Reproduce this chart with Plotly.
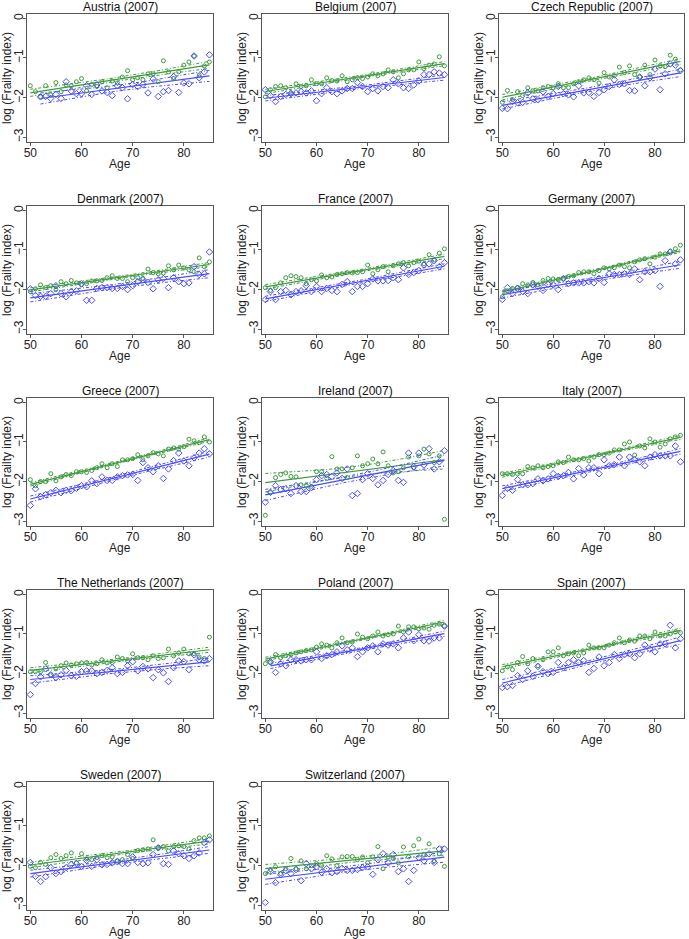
import numpy as np
import plotly.graph_objects as go

ages = list(range(50, 86))

countries = ["Austria", "Belgium", "Czech Republic", "Denmark", "France", "Germany",
             "Greece", "Ireland", "Italy", "The Netherlands", "Poland", "Spain",
             "Sweden", "Switzerland"]
year_label = "(2007)"

N = None
green_austria = [-1.70,-1.85,-1.98,-1.70,-1.93,-1.62,-1.85,-1.68,-1.70,-1.60,-1.52,-1.83,-1.67,-1.72,-1.60,-1.75,-1.58,-1.63,-1.48,-1.32,-1.55,-1.50,-1.55,-1.40,-1.40,-1.60,-1.07,-1.35,-1.52,-1.35,-1.18,-1.10,-0.95,-1.43,-1.20,-1.10]
blue_austria = [N,N,-1.98,-1.97,-2.02,-1.92,-2.02,-1.60,-1.83,-1.90,-1.90,-1.70,-1.92,-1.68,-1.83,-1.87,-1.95,-1.70,-1.75,-2.03,-1.67,-1.72,-1.67,-1.88,-1.53,-1.97,-1.85,-1.82,-1.47,-1.87,-1.63,-1.65,-0.95,-1.50,-1.35,-0.92]
green_belgium = [-1.98,-1.80,-1.72,-1.70,-1.75,-1.88,-1.65,-1.72,-1.70,-1.55,-1.65,-1.65,-1.50,-1.57,-1.58,-1.45,-1.60,-1.55,-1.50,-1.52,-1.48,-1.40,-1.45,-1.40,-1.30,-1.35,-1.50,-1.40,-1.30,-1.30,-1.10,-1.27,-1.18,-1.15,-0.97,-1.20]
blue_belgium = [-1.80,-1.95,-2.10,-1.97,-1.92,-1.90,-1.88,-1.85,-1.88,-1.83,-2.08,-1.90,-1.75,-1.85,-1.90,-1.83,-1.77,-1.77,-1.62,-1.72,-1.85,-1.77,-1.83,-1.72,-1.75,-1.55,-1.65,-1.75,-1.77,-1.68,-1.58,-1.42,-1.42,-1.35,-1.38,-1.42]
green_czech = [-2.12,-1.82,-2.05,-1.85,-1.95,-1.75,-1.83,-1.83,-1.75,-1.72,-1.75,-1.65,-1.75,-1.75,-1.65,-1.60,-1.55,-1.50,-1.55,-1.63,-1.37,-1.48,-1.45,-1.23,-1.37,-1.20,-1.42,-1.48,-1.18,-1.42,-1.05,-1.20,-1.22,-0.93,-1.03,-1.30]
blue_czech = [-2.27,-2.28,-2.10,-2.13,-2.12,-1.88,-2.03,-2.05,-1.85,-1.97,-1.90,-1.72,-1.90,-1.93,-1.98,-1.70,-1.88,-1.87,-1.97,-1.87,-1.80,-1.72,-1.55,-1.67,-1.65,-1.82,-1.83,-1.48,-1.70,-1.50,-1.28,-1.80,-1.40,-1.15,-1.18,-1.32]
green_denmark = [-2.05,-1.98,-1.88,-1.95,-1.90,-2.00,-1.80,-1.85,-1.77,-1.83,-1.88,-1.85,-1.78,-1.78,-1.77,-1.70,-1.65,-1.72,-1.72,-1.80,-1.70,-1.70,-1.72,-1.48,-1.57,-1.60,-1.58,-1.40,-1.50,-1.38,-1.45,-1.50,-1.55,-1.20,-1.42,-1.30]
blue_denmark = [-1.98,-2.15,-2.17,-2.17,-2.10,-1.90,-2.10,-2.18,-2.05,-2.03,-1.85,-2.27,-2.27,-1.97,-1.95,-1.95,-1.97,-1.97,-1.92,-2.00,-1.90,-1.80,-1.75,-1.82,-1.98,-1.75,-1.72,-1.95,-1.70,-1.80,-1.85,-1.83,-1.42,-1.62,-1.60,-1.05]
green_france = [-1.95,-2.02,-1.95,-1.83,-1.70,-1.65,-1.67,-1.70,-1.85,-1.75,-1.78,-1.63,-1.70,-1.68,-1.62,-1.60,-1.57,-1.58,-1.57,-1.55,-1.38,-1.60,-1.50,-1.42,-1.55,-1.40,-1.35,-1.32,-1.40,-1.32,-1.28,-1.35,-1.12,-1.25,-1.08,-0.97]
blue_france = [-2.25,-2.05,-2.25,-2.05,-2.02,-2.13,-2.05,-2.03,-1.90,-2.05,-1.92,-2.05,-1.97,-2.02,-2.05,-1.87,-1.80,-2.05,-1.92,-1.92,-1.85,-1.73,-1.78,-1.78,-1.77,-1.70,-1.75,-1.45,-1.62,-1.57,-1.52,-1.38,-1.35,-1.27,-1.42,-1.32]
green_germany = [-2.18,-2.03,-1.97,-1.95,-1.85,-1.88,-1.82,-1.88,-1.77,-1.72,-1.73,-1.75,-1.72,-1.67,-1.65,-1.57,-1.55,-1.55,-1.60,-1.52,-1.45,-1.48,-1.45,-1.38,-1.42,-1.45,-1.30,-1.25,-1.22,-1.35,-1.18,-1.10,-1.10,-1.03,-0.97,-0.88]
blue_germany = [-2.25,-1.95,-2.10,-1.97,-2.05,-2.10,-1.88,-1.92,-2.02,-1.87,-1.88,-2.00,-1.72,-1.85,-1.83,-1.83,-1.83,-1.80,-1.83,-1.72,-1.82,-1.60,-1.62,-1.62,-1.60,-1.62,-1.48,-1.75,-1.55,-1.55,-1.52,-1.92,-1.27,-1.05,-1.35,-1.25]
green_greece = [-1.95,-2.10,-2.00,-2.00,-1.80,-1.98,-1.88,-1.82,-1.85,-1.75,-1.75,-1.77,-1.72,-1.65,-1.55,-1.65,-1.55,-1.62,-1.45,-1.45,-1.42,-1.32,-1.45,-1.35,-1.27,-1.30,-1.35,-1.18,-1.15,-1.18,-1.12,-0.93,-0.97,-1.02,-0.87,-1.00]
blue_greece = [-2.60,-2.18,-2.38,-2.33,-2.28,-2.22,-2.28,-2.22,-2.23,-2.17,-2.10,-2.13,-1.98,-2.05,-1.88,-1.97,-1.97,-1.88,-1.85,-1.83,-1.82,-1.97,-1.52,-1.65,-1.75,-1.60,-1.92,-1.68,-1.47,-1.28,-1.48,-1.60,-1.40,-1.28,-1.17,-1.30]
green_ireland = [-2.85,-2.27,-1.90,-1.82,-1.78,-1.87,-1.88,-2.08,-2.10,-2.12,-1.75,-1.75,-1.92,-1.37,-1.68,-1.68,-1.90,-1.65,-1.35,-1.60,-1.55,-1.43,-1.55,-1.25,-1.60,-1.78,-1.75,-1.65,-1.38,-1.65,-1.35,-1.18,-1.30,-1.52,-1.35,-2.95]
blue_ireland = [-2.52,-2.27,-2.10,-2.20,-2.18,-2.30,-2.10,-2.25,-2.25,-2.15,-1.95,-1.85,-1.82,-1.87,-1.78,-1.92,-1.68,-2.35,-2.30,-1.95,-1.80,-1.92,-2.08,-1.97,-1.82,-1.72,-1.97,-2.02,-1.28,-1.62,-1.28,-1.58,-1.17,-1.68,-1.50,-1.22]
green_italy = [-1.80,-1.80,-1.82,-1.80,-1.80,-1.62,-1.65,-1.60,-1.65,-1.62,-1.60,-1.50,-1.52,-1.38,-1.45,-1.45,-1.42,-1.48,-1.38,-1.32,-1.32,-1.28,-1.20,-1.20,-1.05,-1.00,-1.33,-1.10,-1.15,-0.92,-1.00,-1.13,-1.05,-0.92,-0.87,-0.83]
blue_italy = [-2.35,-2.17,-2.22,-1.95,-2.08,-2.08,-2.05,-1.93,-1.98,-1.93,-1.80,-1.87,-1.85,-1.77,-1.93,-1.67,-1.83,-1.65,-1.65,-1.80,-1.45,-1.60,-1.57,-1.38,-1.60,-1.38,-1.45,-1.50,-1.60,-1.38,-1.32,-1.35,-1.35,-1.35,-1.10,-1.50]
green_netherlands = [-1.95,-1.95,-1.95,-1.72,-2.03,-1.88,-1.80,-1.73,-1.78,-1.75,-1.73,-1.72,-1.78,-1.75,-1.65,-1.73,-1.72,-1.58,-1.62,-1.68,-1.50,-1.60,-1.60,-1.65,-1.55,-1.62,-1.60,-1.38,-1.55,-1.48,-1.38,-1.50,-1.50,-1.58,-1.62,-1.08]
blue_netherlands = [-2.53,-2.25,-2.08,-1.88,-2.03,-2.10,-2.03,-1.92,-2.05,-2.07,-1.95,-1.93,-1.93,-2.00,-1.97,-1.92,-1.85,-2.00,-1.97,-1.80,-1.70,-1.93,-1.82,-1.88,-2.10,-1.90,-1.98,-2.20,-1.85,-1.68,-1.70,-1.90,-1.53,-1.65,-1.68,-1.62]
green_poland = [-1.75,-1.72,-1.52,-1.60,-1.55,-1.52,-1.48,-1.45,-1.42,-1.40,-1.33,-1.25,-1.28,-1.35,-1.22,-1.10,-1.22,-1.20,-1.00,-1.08,-1.12,-1.05,-0.95,-1.05,-1.02,-1.00,-0.80,-0.95,-0.82,-0.82,-0.87,-0.85,-0.88,-0.78,-0.75,-0.80]
blue_poland = [N,-1.70,-1.97,-1.75,-1.80,-1.65,-1.65,-1.68,-1.65,-1.65,-1.45,-1.62,-1.55,-1.52,-1.45,-1.30,-1.40,-1.35,-1.57,-1.45,-1.35,-1.30,-1.45,-1.25,-1.28,-1.25,-1.35,-1.10,-0.95,-1.17,-1.02,-1.17,-1.18,-1.10,-1.10,-0.80]
green_spain = [-1.93,-1.83,-1.90,-1.72,-1.57,-1.75,-1.62,-1.80,-1.65,-1.45,-1.45,-1.35,-1.55,-1.50,-1.48,-1.55,-1.48,-1.28,-1.35,-1.35,-1.35,-1.28,-1.22,-1.10,-1.22,-1.15,-1.18,-1.05,-1.05,-1.12,-0.95,-1.05,-1.05,-1.00,-0.95,-0.97]
blue_spain = [-2.35,-2.33,-2.30,-2.05,-2.15,-1.93,-2.07,-1.82,-1.95,-2.00,-1.97,-1.72,-1.85,-1.72,-1.65,-1.72,-1.67,-1.97,-1.87,-1.58,-1.80,-1.72,-1.52,-1.62,-1.52,-1.50,-1.60,-1.50,-1.28,-1.38,-1.45,-1.25,-1.25,-0.78,-1.35,-1.12]
green_sweden = [-2.02,-2.05,-1.92,-1.97,-1.80,-1.72,-1.82,-1.75,-1.68,-1.93,-1.70,-1.83,-1.85,-1.80,-1.75,-1.80,-1.78,-1.88,-1.85,-1.72,-1.82,-1.62,-1.60,-1.58,-1.35,-1.55,-1.52,-1.63,-1.52,-1.50,-1.52,-1.58,-1.37,-1.30,-1.30,-1.25]
blue_sweden = [-1.92,-2.27,-2.40,-2.28,-2.05,-2.20,-2.15,-2.05,-1.97,-1.95,-2.02,-1.87,-2.02,-1.85,-1.98,-1.97,-1.93,-1.90,-1.95,-1.95,-1.78,-1.92,-1.95,-1.93,-1.72,-1.55,-1.95,-1.97,-1.63,-1.70,-1.75,-1.82,-1.75,-1.68,-1.42,-1.35]
green_switzerland = [-2.20,-2.10,-2.03,-2.20,-2.08,-1.82,-2.08,-1.88,-2.08,-2.00,-1.95,-2.00,-1.75,-1.83,-2.00,-1.78,-1.77,-1.77,-1.85,-1.78,-1.93,-1.78,-1.52,-2.08,-1.78,-1.82,-1.93,-1.53,-1.78,-1.50,-1.33,-1.72,-1.45,-1.88,-1.70,-2.02]
blue_switzerland = [-2.93,-2.15,-2.43,-2.23,-2.13,-2.20,-2.10,-2.38,-1.95,-2.08,-2.03,-2.17,-2.08,-2.18,-2.15,-2.07,-2.12,-2.12,-2.10,-2.05,-2.03,-2.22,-1.85,-1.70,-1.93,-1.72,-2.15,-2.08,-2.40,-2.12,-1.80,-1.88,-1.70,-1.92,-1.58,-1.58]

green_series = [green_austria, green_belgium, green_czech, green_denmark, green_france, green_germany,
                green_greece, green_ireland, green_italy, green_netherlands, green_poland, green_spain,
                green_sweden, green_switzerland]
blue_series = [blue_austria, blue_belgium, blue_czech, blue_denmark, blue_france, blue_germany,
               blue_greece, blue_ireland, blue_italy, blue_netherlands, blue_poland, blue_spain,
               blue_sweden, blue_switzerland]

x_ticks = [50, 60, 70, 80]
y_ticks = [0, -1, -2, -3]
x_title = "Age"
y_title = "log (Frailty index)"

GREEN = "#3d9a3d"
BLUE = "#4a4aff"
T95 = 2.03

W, H = 689, 939
col_lr = [(27, 213), (262, 448), (499, 684)]
row_top0, row_pitch, row_h = 14, 192.0, 128.0


def fit_ci(xs, ys):
    pairs = [(x, y) for x, y in zip(xs, ys) if y is not None]
    x = np.array([p[0] for p in pairs], float)
    y = np.array([p[1] for p in pairs], float)
    b, a = np.polyfit(x, y, 1)
    n = len(x)
    resid = y - (a + b * x)
    s = np.sqrt((resid ** 2).sum() / (n - 2))
    xg = np.linspace(x.min(), x.max(), 60)
    yg = a + b * xg
    se = s * np.sqrt(1.0 / n + (xg - x.mean()) ** 2 / ((x - x.mean()) ** 2).sum())
    return xg, yg, yg - T95 * se, yg + T95 * se


fig = go.Figure()
annotations = []
TXT = "#222222"
for i, name in enumerate(countries):
    r, c = divmod(i, 3)
    k = i + 1
    xa = "x" if k == 1 else f"x{k}"
    ya = "y" if k == 1 else f"y{k}"
    l, rr = col_lr[c]
    top = row_top0 + r * row_pitch
    bot = top + row_h
    for ys, col in ((green_series[i], GREEN), (blue_series[i], BLUE)):
        xg, yg, lo, hi = fit_ci(ages, ys)
        for yy in (lo, hi):
            fig.add_trace(go.Scatter(x=xg, y=yy, mode="lines", xaxis=xa, yaxis=ya,
                                     line=dict(color=col, width=1, dash="3px,2px,1px,2px"),
                                     hoverinfo="skip", showlegend=False))
        fig.add_trace(go.Scatter(x=xg, y=yg, mode="lines", xaxis=xa, yaxis=ya,
                                 line=dict(color=col, width=1.2), showlegend=False))
    fig.add_trace(go.Scatter(x=ages, y=green_series[i], mode="markers", xaxis=xa, yaxis=ya,
                             marker=dict(symbol="circle-open", size=4, color=GREEN, line=dict(width=1)),
                             showlegend=False))
    fig.add_trace(go.Scatter(x=ages, y=blue_series[i], mode="markers", xaxis=xa, yaxis=ya,
                             marker=dict(symbol="diamond-open", size=5, color=BLUE, line=dict(width=1)),
                             showlegend=False))
    axis_common = dict(showgrid=False, zeroline=False, showline=True, mirror=True,
                       linecolor="#555555", linewidth=1, ticks="outside", ticklen=3,
                       tickcolor="#555555", tickfont=dict(size=12, color=TXT),
                       automargin=False)
    fig.layout[("xaxis" if k == 1 else f"xaxis{k}")] = dict(
        axis_common, domain=[l / W, rr / W], range=[49.35, 85.7], tickvals=x_ticks,
        ticklabelstandoff=-3, anchor=ya)
    fig.layout[("yaxis" if k == 1 else f"yaxis{k}")] = dict(
        axis_common, domain=[1 - bot / H, 1 - top / H], range=[-3.12, 0.11], tickvals=y_ticks,
        tickangle=-90, ticklabelstandoff=-5, anchor=xa)
    annotations.append(dict(text=f"{name} {year_label}", x=(l + rr) / 2 / W, y=1 - (top - 7) / H,
                            xref="paper", yref="paper", xanchor="center", yanchor="middle",
                            showarrow=False, font=dict(size=12, color="#111111")))
    annotations.append(dict(text=x_title, x=(l + rr) / 2 / W, y=1 - (bot + 22) / H,
                            xref="paper", yref="paper", xanchor="center", yanchor="middle",
                            showarrow=False, font=dict(size=12, color=TXT)))
    annotations.append(dict(text=y_title, x=(l - 20) / W, y=1 - (top + bot) / 2 / H, textangle=-90,
                            xref="paper", yref="paper", xanchor="center", yanchor="middle",
                            showarrow=False, font=dict(size=12, color=TXT)))

fig.update_layout(width=W, height=H, margin=dict(l=0, r=0, t=0, b=0),
                  paper_bgcolor="white", plot_bgcolor="white",
                  font=dict(family="Liberation Sans, Arial, sans-serif"),
                  annotations=annotations, showlegend=False)
fig.write_html("out.html", config={"displayModeBar": False},
               post_script="document.body.style.margin='0px';")
